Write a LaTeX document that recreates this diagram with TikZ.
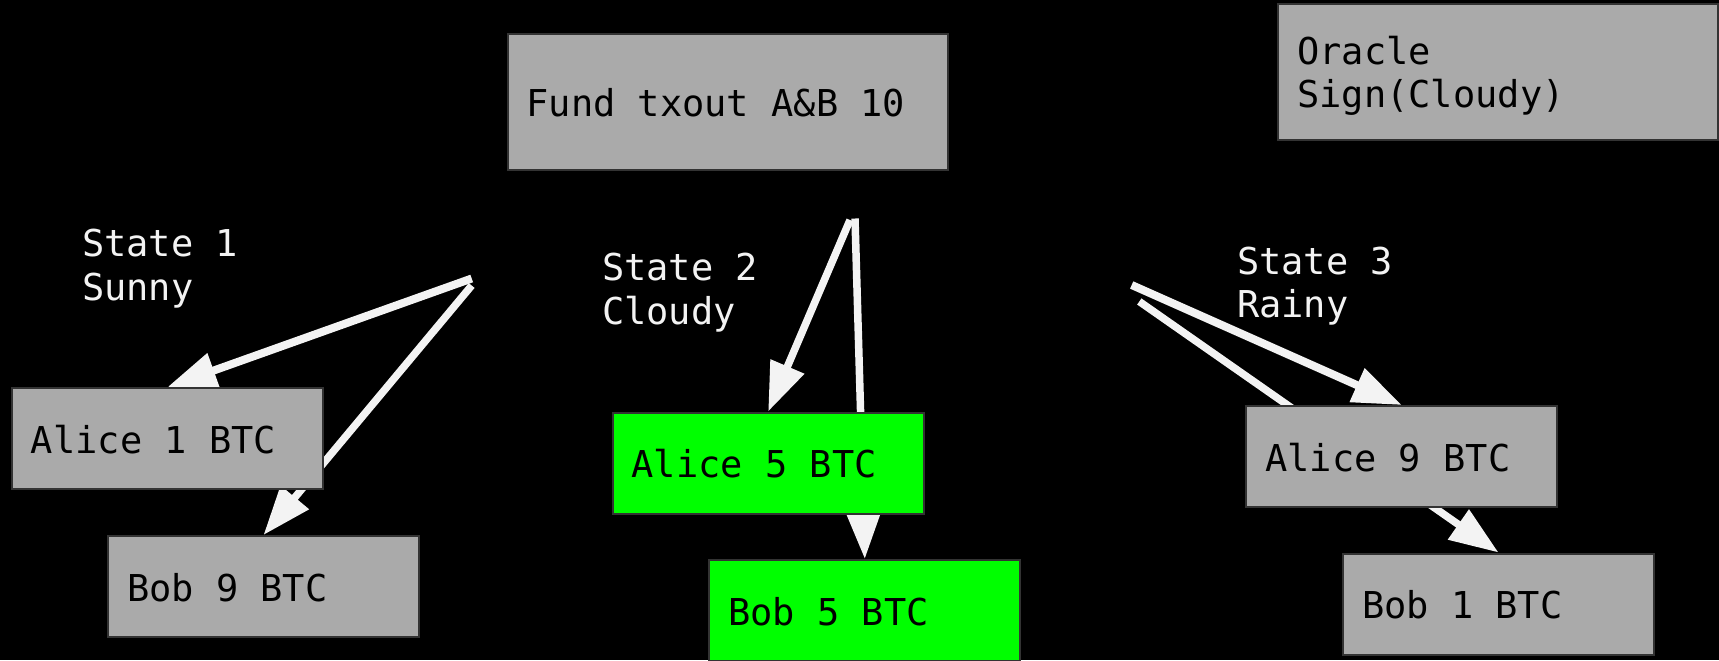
\documentclass[tikz,border=0pt]{standalone}
\usepackage{fontspec}
\newfontfamily\monof{DejaVu Sans Mono}
\usetikzlibrary{arrows.meta,calc}
\definecolor{boxgray}{HTML}{AAAAAA}
\definecolor{boxline}{HTML}{333333}
\definecolor{okgreen}{HTML}{00FF00}
\definecolor{wline}{HTML}{F3F3F3}
\newcommand\fixspace{\spaceskip=11.14pt\relax}
\pgfdeclarelayer{back}
\pgfdeclarelayer{mid}
\pgfsetlayers{back,mid,main}
\begin{document}
\begin{tikzpicture}[x=0.5pt,y=-0.5pt,
  mono/.style={font=\monof\fontsize{18.5pt}{21.7pt}\selectfont,
    execute at begin node=\fixspace},
  box/.style={mono, draw=boxline, line width=1pt, fill=boxgray, anchor=north west,
    inner xsep=9.5pt, inner ysep=0pt, align=left, text=black,
    text height=16.5pt, text depth=2pt},
  smallbox/.style={box, text width=136.5pt, minimum height=50.5pt},
  bigbox/.style={box, text width=201pt, minimum height=68pt},
  greenbox/.style={smallbox, fill=okgreen},
  statelabel/.style={mono, text=wline, anchor=base west, inner sep=0pt,
    text width=120pt, align=left},
  conn/.style={draw=wline, line width=3.75pt,
    -{Triangle[length=24.5pt,width=17.5pt]}},
  thickconn/.style={conn, line width=4pt}]
\useasboundingbox (0,0) rectangle (1719,660);
\begin{pgfonlayer}{back}
\fill[black] (0,0) rectangle (1719,660);
\end{pgfonlayer}

% boxes
\node[bigbox] (fund) at (506.5,32.8) {Fund txout A\&B 10};
\node[bigbox, text depth=24.5pt] (oracle) at (1277.3,3.3) {Oracle\\Sign(Cloudy)};
\node[smallbox] (a1) at (11,387) {Alice 1 BTC};
\node[smallbox] (b9) at (107,535) {Bob 9 BTC};
\node[greenbox] (a5) at (611.7,411.5) {Alice 5 BTC};
\node[greenbox] (b5) at (708.3,559) {Bob 5 BTC};
\node[smallbox] (a9) at (1245.3,405) {Alice 9 BTC};
\node[smallbox] (b1) at (1342,552.5) {Bob 1 BTC};

% state labels
\node[statelabel] (s1) at (81.7,256.7) {State 1\\Sunny};
\node[statelabel] (s2) at (601.7,280.7) {State 2\\Cloudy};
\node[statelabel] (s3) at (1236.7,274.3) {State 3\\Rainy};

% free ends of connectors
\coordinate (sA) at (471.7,278.5);
\coordinate (sB) at (471.7,285.5);
\coordinate (sC) at (850,220);
\coordinate (sD) at (855,218.5);
\coordinate (sE) at (1131.7,285);
\coordinate (sF) at (1139.3,301.5);

\begin{pgfonlayer}{mid}
\draw[thickconn] (sA) -- (a1.north);
\draw[conn] (sB) -- (b9.north);
\draw[conn] (sC) -- (a5.north);
\draw[conn] (sD) -- (b5.north);
\draw[thickconn] (sE) -- (a9.north);
\draw[conn] (sF) -- (b1.north);
\end{pgfonlayer}
\end{tikzpicture}
\end{document}
